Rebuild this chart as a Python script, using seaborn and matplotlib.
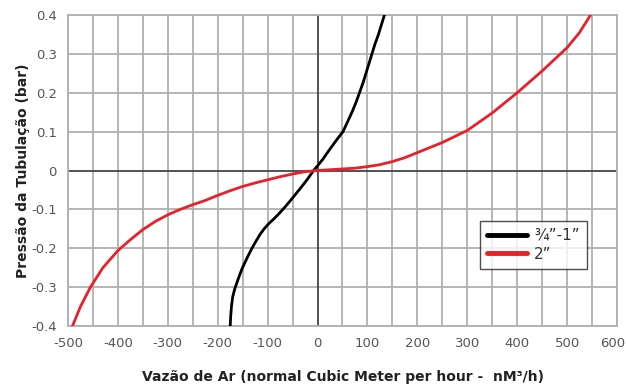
import matplotlib
matplotlib.use("Agg")
import matplotlib.pyplot as plt
import matplotlib.transforms as mtransforms
import seaborn as sns
import pandas as pd
from matplotlib.lines import Line2D

# Data
x_small = [-175, -174, -172.5, -170, -166, -162, -157, -152, -146, -139, -131, -123, -115, -107, -98, -88, -78, -68, -56, -44, -32, -20, -8, 0, 10, 22, 36, 51, 60, 69, 77, 84, 91, 97, 103, 109, 115, 122, 128, 134]
y_small = [-0.40, -0.375, -0.35, -0.325, -0.305, -0.29, -0.272, -0.255, -0.238, -0.219, -0.199, -0.181, -0.164, -0.150, -0.137, -0.125, -0.112, -0.098, -0.080, -0.061, -0.042, -0.022, 0.000, 0.012, 0.028, 0.050, 0.075, 0.100, 0.125, 0.150, 0.175, 0.200, 0.225, 0.250, 0.275, 0.300, 0.325, 0.350, 0.375, 0.400]

x_big = [-491, -475, -455, -430, -400, -375, -350, -325, -300, -275, -250, -225, -200, -175, -150, -125, -100, -75, -50, -25, 0, 25, 50, 75, 100, 125, 150, 175, 200, 250, 300, 350, 400, 450, 500, 525, 547]
y_big = [-0.40, -0.35, -0.30, -0.25, -0.206, -0.178, -0.152, -0.131, -0.114, -0.100, -0.088, -0.077, -0.064, -0.052, -0.041, -0.032, -0.024, -0.016, -0.009, -0.003, 0.000, 0.002, 0.004, 0.006, 0.010, 0.015, 0.023, 0.033, 0.046, 0.072, 0.103, 0.148, 0.200, 0.256, 0.316, 0.355, 0.400]

series_labels = ["\u00be\u201d-1\u201d", "2\u201d"]
series_colors = ["#000000", "#e8202a"]

x_tick_values = list(range(-500, 601, 50))
y_ticks = [-0.4, -0.3, -0.2, -0.1, 0, 0.1, 0.2, 0.3, 0.4]
y_tick_labels = ["-0.4", "-0.3", "-0.2", "-0.1", "0", "0.1", "0.2", "0.3", "0.4"]

df = pd.concat([
    pd.DataFrame({"x": x_small, "y": y_small, "s": series_labels[0]}),
    pd.DataFrame({"x": x_big, "y": y_big, "s": series_labels[1]}),
])

sns.set_style("white")
plt.rcParams['font.family'] = ['DejaVu Sans']

fig = plt.figure(figsize=(6.26, 3.87), dpi=100)
ax = fig.add_axes([68/626, 61/387, 549/626, 311/387])

grid_col = "#b0b0b0"
for xv in x_tick_values:
    if xv != 0:
        ax.axvline(xv, color=grid_col, lw=1.3, zorder=0)
for yv in y_ticks:
    if yv != 0:
        ax.axhline(yv, color=grid_col, lw=1.3, zorder=0)
ax.axvline(0, color="#444444", lw=1.3, zorder=1)
ax.axhline(0, color="#444444", lw=1.3, zorder=1)

sns.lineplot(data=df, x="x", y="y", hue="s", palette=dict(zip(series_labels, series_colors)),
             sort=False, estimator=None, units="s", lw=2.0, ax=ax, legend=False, zorder=3)

ax.set_xlim(-500, 600)
ax.set_ylim(-0.4, 0.4)
ax.set_xticks(x_tick_values)
ax.set_xticklabels([str(v) if v % 100 == 0 else "" for v in x_tick_values])
ax.set_yticks(y_ticks)
ax.set_yticklabels(y_tick_labels)
ax.tick_params(axis="both", which="both", direction="out", length=4, width=1, color=grid_col,
               labelcolor="#555555", labelsize=9.5, pad=4)
for sp in ax.spines.values():
    sp.set_color(grid_col)
    sp.set_linewidth(1.3)

# keep the last x tick label inside the figure
last = ax.get_xticklabels()[-1]
last.set_transform(last.get_transform() + mtransforms.ScaledTranslation(-3/72, 0, fig.dpi_scale_trans))

ax.set_xlabel("Vaz\u00e3o de Ar (normal Cubic Meter per hour -  nM\u00b3/h)", fontsize=10, fontweight="bold",
              color="#222222", labelpad=14)
ax.set_ylabel("Press\u00e3o da Tubula\u00e7\u00e3o (bar)", fontsize=10, fontweight="bold", color="#222222", labelpad=1)

handles = [Line2D([], [], color=c, lw=3.5) for c in series_colors]
leg = ax.legend(handles, series_labels, loc="upper left", bbox_to_anchor=(412/549, (326-221)/311),
                frameon=True, fancybox=False, fontsize=11, handlelength=2.6, borderpad=0.45,
                labelspacing=0.25, handletextpad=0.5, borderaxespad=0)
leg.get_frame().set_edgecolor("#222222")
leg.get_frame().set_linewidth(1.0)
for t in leg.get_texts():
    t.set_color("#333333")

fig.savefig("out.png", dpi=100)
